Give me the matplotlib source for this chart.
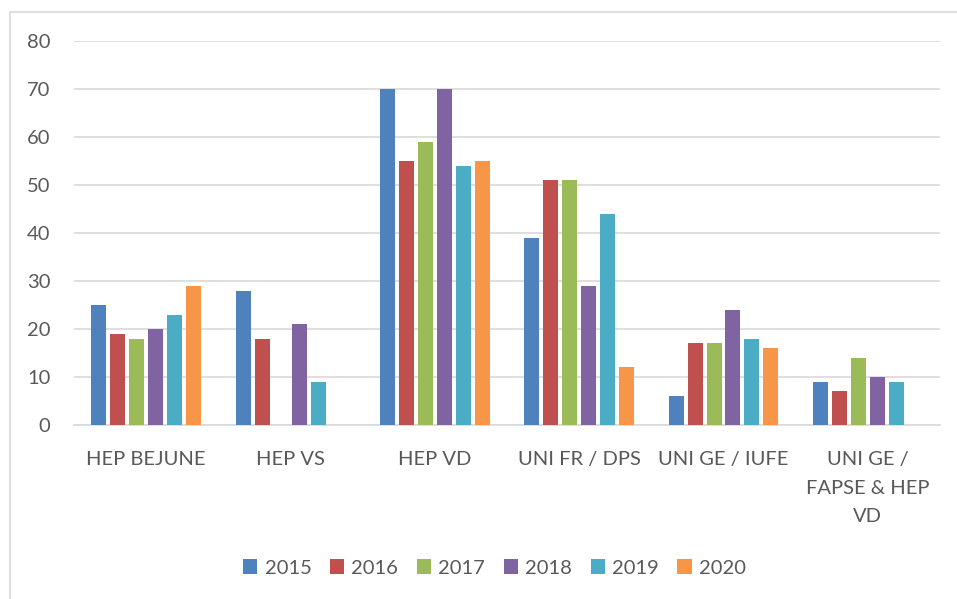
import matplotlib
matplotlib.use("Agg")
import matplotlib.pyplot as plt
import numpy as np
from matplotlib.patches import Rectangle

categories = ["HEP BEJUNE", "HEP VS", "HEP VD", "UNI FR / DPS", "UNI GE / IUFE",
              "UNI GE /\nFAPSE & HEP\nVD"]
years = ["2015", "2016", "2017", "2018", "2019", "2020"]
v2015 = [25, 28, 70, 39, 6, 9]
v2016 = [19, 18, 55, 51, 17, 7]
v2017 = [18, np.nan, 59, 51, 17, 14]
v2018 = [20, 21, 70, 29, 24, 10]
v2019 = [23, 9, 54, 44, 18, 9]
v2020 = [29, np.nan, 55, 12, 16, np.nan]
series = [v2015, v2016, v2017, v2018, v2019, v2020]
colors = ["#4F81BD", "#C0504D", "#9BBB59", "#8064A2", "#4BACC6", "#F79646"]

plt.rcParams['font.family'] = ['Lato', 'DejaVu Sans']
txt = "#595959"

fig = plt.figure(figsize=(9.57, 5.99), dpi=100)
W, H = 957, 599
ax = fig.add_axes([74 / W, 1 - 425 / H, (940 - 74) / W, (425 - 41) / H])

x = np.arange(len(categories))
slot = 0.131
bw = 0.104
for i, (vals, c) in enumerate(zip(series, colors)):
    ax.bar(x + (i - 2.5) * slot, vals, width=bw, color=c, label=years[i], zorder=3)

ax.set_xlim(-0.5, len(categories) - 0.5)
ax.set_ylim(0, 80)
ax.set_yticks(range(0, 81, 10))
ax.grid(axis='y', color="#D9D9D9", linewidth=1.2, zorder=0)
for s in ["top", "right", "left"]:
    ax.spines[s].set_visible(False)
ax.spines["bottom"].set_color("#D9D9D9")
ax.spines["bottom"].set_linewidth(1.2)
ax.set_xticks(x)
ax.set_xticklabels(categories, fontsize=14.5, color=txt, linespacing=1.8)
ax.tick_params(axis='x', length=0, pad=19)
ax.tick_params(axis='y', length=0, pad=17, labelsize=14.5, labelcolor=txt)

leg = fig.legend(loc='center', bbox_to_anchor=(494.5 / W, 1 - 568 / H), ncol=6, frameon=False,
                 fontsize=14.5, handlelength=0.72, handleheight=0.72, handletextpad=0.35,
                 columnspacing=0.92)
for t in leg.get_texts():
    t.set_color(txt)

fig.patches.append(Rectangle((10 / W, -0.01), 1.0, 1 - 12 / H + 0.01, transform=fig.transFigure,
                             fill=False, edgecolor="#D9D9D9", linewidth=1.2))

fig.savefig("out.png", dpi=100)
